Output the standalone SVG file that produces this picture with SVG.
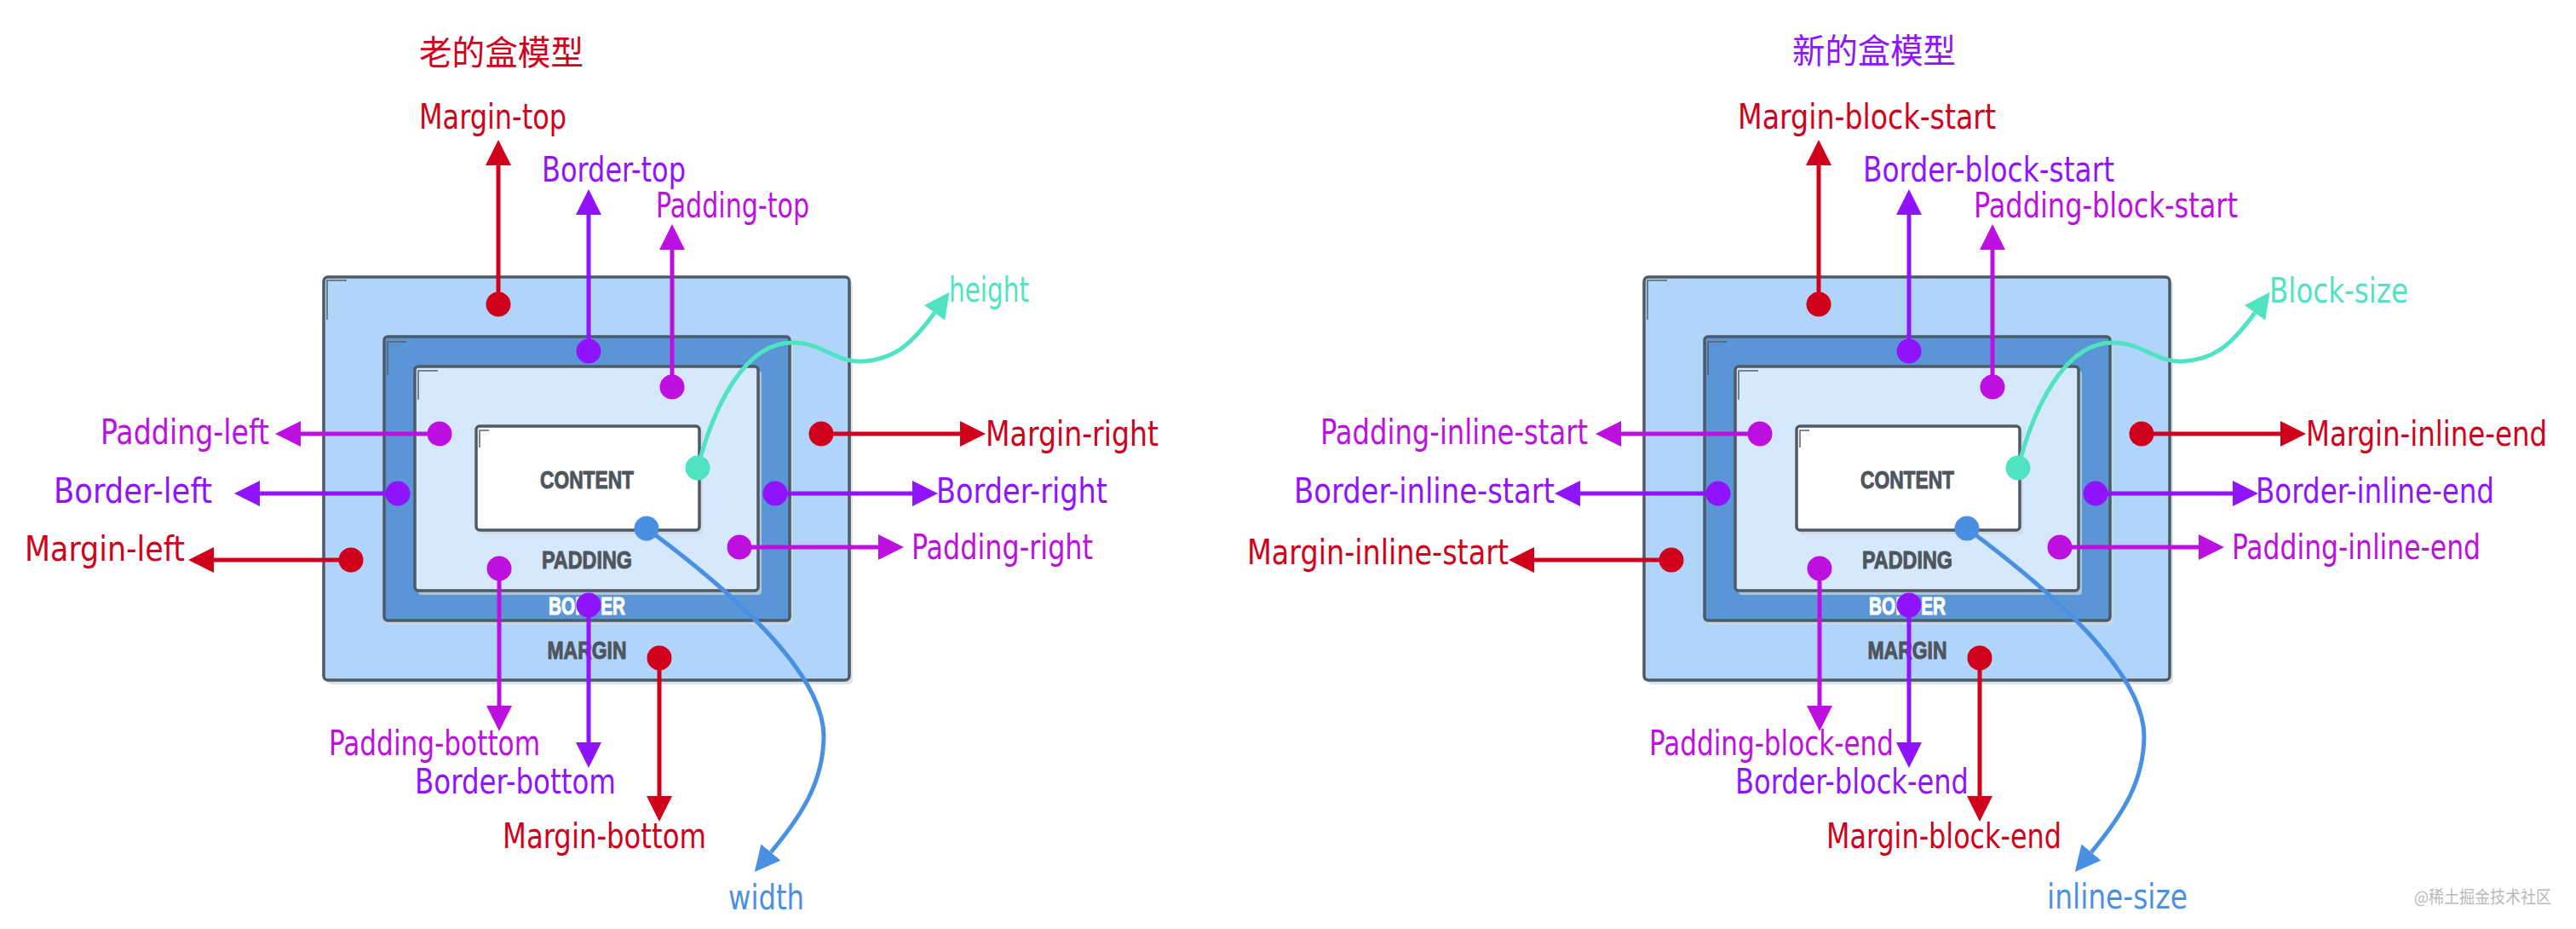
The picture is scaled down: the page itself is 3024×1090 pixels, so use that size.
<svg xmlns="http://www.w3.org/2000/svg" width="3024" height="1090" viewBox="0 0 3024 1090">
<style>
.bg{fill:#ffffff}
.lbl{font-family:"Liberation Sans Narrow","DejaVu Sans Condensed","Liberation Sans",sans-serif;font-size:40px}
.ttl{font-family:"Noto Sans CJK SC","Noto Sans",sans-serif;font-size:40px}
.box{font-family:"Liberation Sans","DejaVu Sans",sans-serif;font-weight:bold;font-size:29px;text-anchor:middle;stroke-width:1}
.dk{fill:#4E555D;stroke:#4E555D}
.wt{fill:#ffffff;stroke:#ffffff}
.red{fill:#D0021B}.pur{fill:#9013FE}.mag{fill:#BD10E0}.teal{fill:#50E3C2}.blue{fill:#4A90E2}
.lr{stroke:#D0021B}.lp{stroke:#9013FE}.lm{stroke:#BD10E0}.lt{stroke:#50E3C2}.lb{stroke:#4A90E2}
.ln{fill:none;stroke-width:5}
.rct{stroke:#4E5A65;stroke-width:3.5}
.shd{fill:#cfd5db;opacity:0.7}
.mk{fill:none;stroke:#55606b;stroke-width:1.5}
</style>
<defs>
<marker id="hr" viewBox="0 0 10 10" refX="0" refY="5" markerWidth="30" markerHeight="30" markerUnits="userSpaceOnUse" orient="auto"><path d="M0,0 L10,5 L0,10 z" fill="#D0021B"/></marker>
<marker id="hp" viewBox="0 0 10 10" refX="0" refY="5" markerWidth="30" markerHeight="30" markerUnits="userSpaceOnUse" orient="auto"><path d="M0,0 L10,5 L0,10 z" fill="#9013FE"/></marker>
<marker id="hm" viewBox="0 0 10 10" refX="0" refY="5" markerWidth="30" markerHeight="30" markerUnits="userSpaceOnUse" orient="auto"><path d="M0,0 L10,5 L0,10 z" fill="#BD10E0"/></marker>
<marker id="ht" viewBox="0 0 10 10" refX="0" refY="5" markerWidth="30" markerHeight="30" markerUnits="userSpaceOnUse" orient="auto"><path d="M0,0 L10,5 L0,10 z" fill="#50E3C2"/></marker>
<marker id="hb" viewBox="0 0 10 10" refX="0" refY="5" markerWidth="30" markerHeight="30" markerUnits="userSpaceOnUse" orient="auto"><path d="M0,0 L10,5 L0,10 z" fill="#4A90E2"/></marker>
</defs>
<rect class="bg" x="0" y="0" width="3024" height="1090"/>

<!-- ===== OLD BOX MODEL ===== -->
<g id="title-old"><text class="ttl red" x="492" y="76" textLength="193" lengthAdjust="spacingAndGlyphs">老的盒模型</text></g>

<g id="box-old">
  <g id="old-margin">
    <rect class="shd" x="384" y="330" width="617" height="473" rx="5"/>
    <rect class="rct" x="380" y="325" width="617" height="473" rx="5" fill="#B1D5FA"/>
    <path class="mk" d="M384,375 V329 H407"/>
    <text class="box dk" x="689" y="773" textLength="93" lengthAdjust="spacingAndGlyphs">MARGIN</text>
  </g>
  <g id="old-border">
    <rect class="shd" x="455" y="400" width="476" height="333" rx="4"/>
    <rect class="rct" x="451" y="395" width="476" height="333" rx="4" fill="#5A96D6"/>
    <path class="mk" d="M455,440 V401 H477"/>
    <text class="box wt" x="689" y="721" textLength="90" lengthAdjust="spacingAndGlyphs">BORDER</text>
  </g>
  <g id="old-padding">
    <rect class="shd" x="491" y="435" width="403" height="263" rx="4"/>
    <rect class="rct" x="487" y="430" width="403" height="263" rx="4" fill="#D6E8FC"/>
    <path class="mk" d="M491,469 V435 H514"/>
    <text class="box dk" x="689" y="667" textLength="106" lengthAdjust="spacingAndGlyphs">PADDING</text>
  </g>
  <g id="old-content">
    <rect class="shd" x="563" y="505" width="262" height="122" rx="4"/>
    <rect class="rct" x="559" y="500" width="262" height="122" rx="4" fill="#ffffff"/>
    <path class="mk" d="M563,525 V505 H574"/>
    <text class="box dk" x="689" y="573" textLength="110" lengthAdjust="spacingAndGlyphs">CONTENT</text>
  </g>
</g>

<g id="labels-old">
  <g id="lbl-margin-top"><text class="lbl red" x="492" y="151" textLength="173" lengthAdjust="spacingAndGlyphs">Margin-top</text></g>
  <g id="lbl-border-top"><text class="lbl pur" x="636" y="213" textLength="169" lengthAdjust="spacingAndGlyphs">Border-top</text></g>
  <g id="lbl-padding-top"><text class="lbl mag" x="770" y="255" textLength="180" lengthAdjust="spacingAndGlyphs">Padding-top</text></g>
  <g id="lbl-padding-left"><text class="lbl mag" x="118" y="521" textLength="198" lengthAdjust="spacingAndGlyphs">Padding-left</text></g>
  <g id="lbl-border-left"><text class="lbl pur" x="63" y="590" textLength="186" lengthAdjust="spacingAndGlyphs">Border-left</text></g>
  <g id="lbl-margin-left"><text class="lbl red" x="29" y="658" textLength="188" lengthAdjust="spacingAndGlyphs">Margin-left</text></g>
  <g id="lbl-margin-right"><text class="lbl red" x="1157" y="523" textLength="203" lengthAdjust="spacingAndGlyphs">Margin-right</text></g>
  <g id="lbl-border-right"><text class="lbl pur" x="1099" y="590" textLength="201" lengthAdjust="spacingAndGlyphs">Border-right</text></g>
  <g id="lbl-padding-right"><text class="lbl mag" x="1070" y="656" textLength="213" lengthAdjust="spacingAndGlyphs">Padding-right</text></g>
  <g id="lbl-padding-bottom"><text class="lbl mag" x="386" y="886" textLength="248" lengthAdjust="spacingAndGlyphs">Padding-bottom</text></g>
  <g id="lbl-border-bottom"><text class="lbl pur" x="487" y="931" textLength="236" lengthAdjust="spacingAndGlyphs">Border-bottom</text></g>
  <g id="lbl-margin-bottom"><text class="lbl red" x="590" y="995" textLength="239" lengthAdjust="spacingAndGlyphs">Margin-bottom</text></g>
  <g id="lbl-height"><text class="lbl teal" x="1114" y="354" textLength="94" lengthAdjust="spacingAndGlyphs">height</text></g>
  <g id="lbl-width"><text class="lbl blue" x="855" y="1067" textLength="89" lengthAdjust="spacingAndGlyphs">width</text></g>
</g>

<g id="connectors-old">
  <path class="ln lr" d="M585,357 V194" marker-end="url(#hr)"/>
  <path class="ln lp" d="M691,412 V252" marker-end="url(#hp)"/>
  <path class="ln lm" d="M789,454 V293" marker-end="url(#hm)"/>
  <path class="ln lm" d="M516,509 H353" marker-end="url(#hm)"/>
  <path class="ln lp" d="M467,579 H305" marker-end="url(#hp)"/>
  <path class="ln lr" d="M412,657 H251" marker-end="url(#hr)"/>
  <path class="ln lr" d="M964,509 H1127" marker-end="url(#hr)"/>
  <path class="ln lp" d="M910,579 H1071" marker-end="url(#hp)"/>
  <path class="ln lm" d="M868,642 H1031" marker-end="url(#hm)"/>
  <path class="ln lm" d="M586,667 V828" marker-end="url(#hm)"/>
  <path class="ln lp" d="M691,710 V871" marker-end="url(#hp)"/>
  <path class="ln lr" d="M774,772 V934" marker-end="url(#hr)"/>
  <path class="ln lt" d="M819,549 C838,475 875,402 930,402 C966,402 982,426 1012,424 C1045,422 1066,410 1097,367" marker-end="url(#ht)"/>
  <path class="ln lb" d="M759,620 C860,695 968,790 967,865 C966,915 945,952 905,1000" marker-end="url(#hb)"/>
  <circle class="red" cx="585" cy="357" r="14.5"/>
  <circle class="pur" cx="691" cy="412" r="14.5"/>
  <circle class="mag" cx="789" cy="454" r="14.5"/>
  <circle class="mag" cx="516" cy="509" r="14.5"/>
  <circle class="pur" cx="467" cy="579" r="14.5"/>
  <circle class="red" cx="412" cy="657" r="14.5"/>
  <circle class="red" cx="964" cy="509" r="14.5"/>
  <circle class="pur" cx="910" cy="579" r="14.5"/>
  <circle class="mag" cx="868" cy="642" r="14.5"/>
  <circle class="mag" cx="586" cy="667" r="14.5"/>
  <circle class="pur" cx="691" cy="710" r="14.5"/>
  <circle class="red" cx="774" cy="772" r="14.5"/>
  <circle class="teal" cx="819" cy="549" r="14.5"/>
  <circle class="blue" cx="759" cy="620" r="14.5"/>
</g>

<!-- ===== NEW BOX MODEL ===== -->
<g id="title-new"><text class="ttl pur" x="2104" y="74" textLength="192" lengthAdjust="spacingAndGlyphs">新的盒模型</text></g>

<g id="box-new" transform="translate(1550 0)">
  <g id="new-margin">
    <rect class="shd" x="384" y="330" width="617" height="473" rx="5"/>
    <rect class="rct" x="380" y="325" width="617" height="473" rx="5" fill="#B1D5FA"/>
    <path class="mk" d="M384,375 V329 H407"/>
    <text class="box dk" x="689" y="773" textLength="93" lengthAdjust="spacingAndGlyphs">MARGIN</text>
  </g>
  <g id="new-border">
    <rect class="shd" x="455" y="400" width="476" height="333" rx="4"/>
    <rect class="rct" x="451" y="395" width="476" height="333" rx="4" fill="#5A96D6"/>
    <path class="mk" d="M455,440 V401 H477"/>
    <text class="box wt" x="689" y="721" textLength="90" lengthAdjust="spacingAndGlyphs">BORDER</text>
  </g>
  <g id="new-padding">
    <rect class="shd" x="491" y="435" width="403" height="263" rx="4"/>
    <rect class="rct" x="487" y="430" width="403" height="263" rx="4" fill="#D6E8FC"/>
    <path class="mk" d="M491,469 V435 H514"/>
    <text class="box dk" x="689" y="667" textLength="106" lengthAdjust="spacingAndGlyphs">PADDING</text>
  </g>
  <g id="new-content">
    <rect class="shd" x="563" y="505" width="262" height="122" rx="4"/>
    <rect class="rct" x="559" y="500" width="262" height="122" rx="4" fill="#ffffff"/>
    <path class="mk" d="M563,525 V505 H574"/>
    <text class="box dk" x="689" y="573" textLength="110" lengthAdjust="spacingAndGlyphs">CONTENT</text>
  </g>
</g>

<g id="labels-new">
  <g id="lbl-margin-block-start"><text class="lbl red" x="2040" y="151" textLength="303" lengthAdjust="spacingAndGlyphs">Margin-block-start</text></g>
  <g id="lbl-border-block-start"><text class="lbl pur" x="2187" y="213" textLength="295" lengthAdjust="spacingAndGlyphs">Border-block-start</text></g>
  <g id="lbl-padding-block-start"><text class="lbl mag" x="2317" y="255" textLength="310" lengthAdjust="spacingAndGlyphs">Padding-block-start</text></g>
  <g id="lbl-padding-inline-start"><text class="lbl mag" x="1550" y="521" textLength="314" lengthAdjust="spacingAndGlyphs">Padding-inline-start</text></g>
  <g id="lbl-border-inline-start"><text class="lbl pur" x="1519" y="590" textLength="306" lengthAdjust="spacingAndGlyphs">Border-inline-start</text></g>
  <g id="lbl-margin-inline-start"><text class="lbl red" x="1464" y="662" textLength="307" lengthAdjust="spacingAndGlyphs">Margin-inline-start</text></g>
  <g id="lbl-margin-inline-end"><text class="lbl red" x="2707" y="523" textLength="283" lengthAdjust="spacingAndGlyphs">Margin-inline-end</text></g>
  <g id="lbl-border-inline-end"><text class="lbl pur" x="2648" y="590" textLength="280" lengthAdjust="spacingAndGlyphs">Border-inline-end</text></g>
  <g id="lbl-padding-inline-end"><text class="lbl mag" x="2620" y="656" textLength="292" lengthAdjust="spacingAndGlyphs">Padding-inline-end</text></g>
  <g id="lbl-padding-block-end"><text class="lbl mag" x="1936" y="886" textLength="287" lengthAdjust="spacingAndGlyphs">Padding-block-end</text></g>
  <g id="lbl-border-block-end"><text class="lbl pur" x="2037" y="931" textLength="274" lengthAdjust="spacingAndGlyphs">Border-block-end</text></g>
  <g id="lbl-margin-block-end"><text class="lbl red" x="2144" y="995" textLength="276" lengthAdjust="spacingAndGlyphs">Margin-block-end</text></g>
  <g id="lbl-block-size"><text class="lbl teal" x="2664" y="355" textLength="163" lengthAdjust="spacingAndGlyphs">Block-size</text></g>
  <g id="lbl-inline-size"><text class="lbl blue" x="2403" y="1066" textLength="165" lengthAdjust="spacingAndGlyphs">inline-size</text></g>
</g>

<g id="connectors-new" transform="translate(1550 0)">
  <path class="ln lr" d="M585,357 V194" marker-end="url(#hr)"/>
  <path class="ln lp" d="M691,412 V252" marker-end="url(#hp)"/>
  <path class="ln lm" d="M789,454 V293" marker-end="url(#hm)"/>
  <path class="ln lm" d="M516,509 H353" marker-end="url(#hm)"/>
  <path class="ln lp" d="M467,579 H305" marker-end="url(#hp)"/>
  <path class="ln lr" d="M412,657 H251" marker-end="url(#hr)"/>
  <path class="ln lr" d="M964,509 H1127" marker-end="url(#hr)"/>
  <path class="ln lp" d="M910,579 H1071" marker-end="url(#hp)"/>
  <path class="ln lm" d="M868,642 H1031" marker-end="url(#hm)"/>
  <path class="ln lm" d="M586,667 V828" marker-end="url(#hm)"/>
  <path class="ln lp" d="M691,710 V871" marker-end="url(#hp)"/>
  <path class="ln lr" d="M774,772 V934" marker-end="url(#hr)"/>
  <path class="ln lt" d="M819,549 C838,475 875,402 930,402 C966,402 982,426 1012,424 C1045,422 1066,410 1097,367" marker-end="url(#ht)"/>
  <path class="ln lb" d="M759,620 C860,695 968,790 967,865 C966,915 945,952 905,1000" marker-end="url(#hb)"/>
  <circle class="red" cx="585" cy="357" r="14.5"/>
  <circle class="pur" cx="691" cy="412" r="14.5"/>
  <circle class="mag" cx="789" cy="454" r="14.5"/>
  <circle class="mag" cx="516" cy="509" r="14.5"/>
  <circle class="pur" cx="467" cy="579" r="14.5"/>
  <circle class="red" cx="412" cy="657" r="14.5"/>
  <circle class="red" cx="964" cy="509" r="14.5"/>
  <circle class="pur" cx="910" cy="579" r="14.5"/>
  <circle class="mag" cx="868" cy="642" r="14.5"/>
  <circle class="mag" cx="586" cy="667" r="14.5"/>
  <circle class="pur" cx="691" cy="710" r="14.5"/>
  <circle class="red" cx="774" cy="772" r="14.5"/>
  <circle class="teal" cx="819" cy="549" r="14.5"/>
  <circle class="blue" cx="759" cy="620" r="14.5"/>
</g>

<g id="watermark"><text x="2834" y="1060" font-family="Noto Sans CJK SC, Noto Sans, sans-serif" font-size="20" fill="#b9b9b9" textLength="161" lengthAdjust="spacingAndGlyphs">@稀土掘金技术社区</text></g>
</svg>
